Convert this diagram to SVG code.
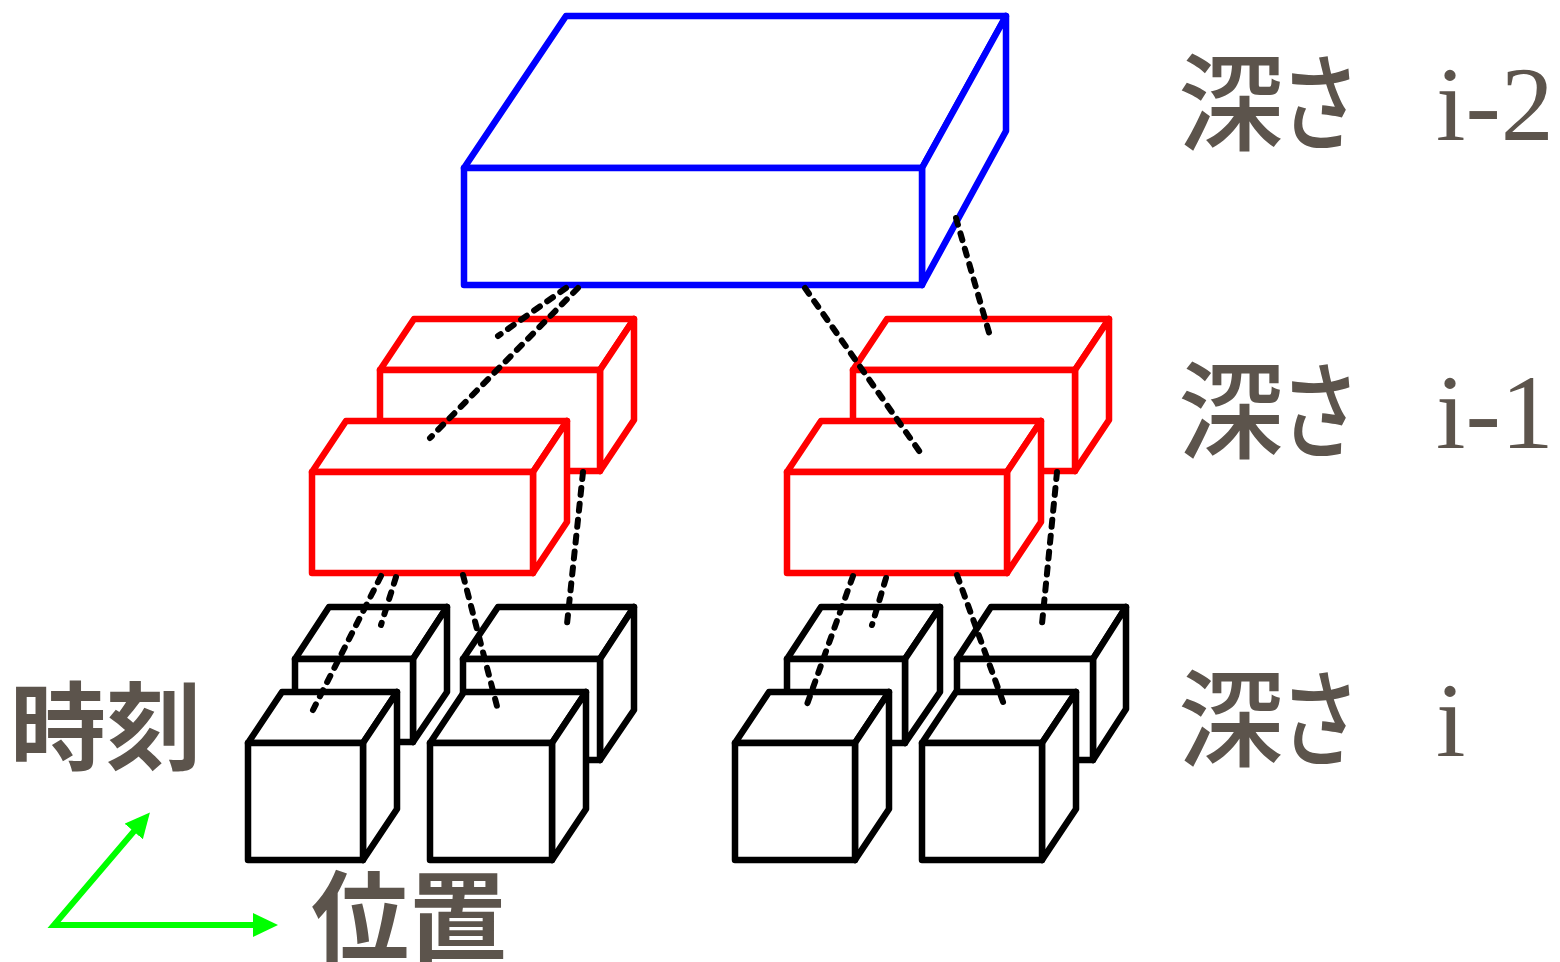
<svg xmlns="http://www.w3.org/2000/svg" width="1560" height="962" viewBox="0 0 1560 962">
<style>
.blue polygon{fill:#fff;stroke:#0000ff;stroke-width:6.5;stroke-linejoin:round}
.red polygon{fill:#fff;stroke:#ff0000;stroke-width:6.5;stroke-linejoin:round}
.blk polygon{fill:#fff;stroke:#000;stroke-width:6.5;stroke-linejoin:round}
#connectors line{stroke:#000;stroke-width:6;stroke-dasharray:7 9;stroke-linecap:round;fill:none}
.lbl{fill:#5c544c;font-family:"Noto Sans CJK JP","Noto Sans CJK SC",sans-serif}
.ser{font-family:"Liberation Serif","Times New Roman",serif;font-weight:normal}
</style>
<defs>
<marker id="ah" markerUnits="userSpaceOnUse" markerWidth="28" markerHeight="28" refX="2" refY="12" orient="auto-start-reverse">
<path d="M0,0 L25,12 L0,24 Z" fill="#00ff00"/>
</marker>
</defs>
<rect width="1560" height="962" fill="#fff"/>

<g id="box-depth-i-2" class="blue">
<polygon points="464,168 566,16 1006,16 922,168"/>
<polygon points="922,168 1006,16 1006,131 922,285"/>
<polygon points="464,168 922,168 922,285 464,285"/>
</g>

<g id="red-left-back" class="red">
<polygon points="380,370 414,319 634,319 600,370"/>
<polygon points="600,370 634,319 634,420 600,471"/>
<polygon points="380,370 600,370 600,471 380,471"/>
</g>
<g id="red-left-front" class="red">
<polygon points="312,472 346,421 567,421 533,472"/>
<polygon points="533,472 567,421 567,522 533,573"/>
<polygon points="312,472 533,472 533,573 312,573"/>
</g>
<g id="red-right-back" class="red">
<polygon points="853,370 887,319 1109,319 1075,370"/>
<polygon points="1075,370 1109,319 1109,420 1075,471"/>
<polygon points="853,370 1075,370 1075,471 853,471"/>
</g>
<g id="red-right-front" class="red">
<polygon points="787,472 821,421 1041,421 1007,472"/>
<polygon points="1007,472 1041,421 1041,522 1007,573"/>
<polygon points="787,472 1007,472 1007,573 787,573"/>
</g>

<g id="cube-1-back" class="blk">
<polygon points="295,659 329,607 447,607 413,659"/>
<polygon points="413,659 447,607 447,692 413,742"/>
<polygon points="295,659 413,659 413,742 295,742"/>
</g>
<g id="cube-2-back" class="blk">
<polygon points="463,659 498,607 634,607 600,659"/>
<polygon points="600,659 634,607 634,710 600,760"/>
<polygon points="463,659 600,659 600,760 463,760"/>
</g>
<g id="cube-1-front" class="blk">
<polygon points="248,743 282,692 397,692 363,743"/>
<polygon points="363,743 397,692 397,809 363,860"/>
<polygon points="248,743 363,743 363,860 248,860"/>
</g>
<g id="cube-2-front" class="blk">
<polygon points="430,743 464,692 586,692 552,743"/>
<polygon points="552,743 586,692 586,809 552,860"/>
<polygon points="430,743 552,743 552,860 430,860"/>
</g>
<g id="cube-3-back" class="blk">
<polygon points="787,659 821,607 940,607 905,659"/>
<polygon points="905,659 940,607 940,692 905,743"/>
<polygon points="787,659 905,659 905,743 787,743"/>
</g>
<g id="cube-4-back" class="blk">
<polygon points="957,659 991,607 1126,607 1093,659"/>
<polygon points="1093,659 1126,607 1126,709 1093,760"/>
<polygon points="957,659 1093,659 1093,760 957,760"/>
</g>
<g id="cube-3-front" class="blk">
<polygon points="735,743 769,692 889,692 855,743"/>
<polygon points="855,743 889,692 889,809 855,860"/>
<polygon points="735,743 855,743 855,860 735,860"/>
</g>
<g id="cube-4-front" class="blk">
<polygon points="922,743 956,692 1076,692 1042,743"/>
<polygon points="1042,743 1076,692 1076,809 1042,860"/>
<polygon points="922,743 1042,743 1042,860 922,860"/>
</g>

<g id="connectors">
<line x1="566" y1="288" x2="498" y2="336"/>
<line x1="578" y1="288" x2="430" y2="438"/>
<line x1="805" y1="288" x2="922" y2="455"/>
<line x1="956" y1="218" x2="990" y2="336"/>
<line x1="381" y1="576" x2="313" y2="710"/>
<line x1="396" y1="577" x2="381" y2="625"/>
<line x1="463" y1="575" x2="498" y2="710"/>
<line x1="583" y1="472" x2="567" y2="624"/>
<line x1="853" y1="576" x2="805" y2="710"/>
<line x1="886" y1="578" x2="872" y2="625"/>
<line x1="957" y1="575" x2="1006" y2="710"/>
<line x1="1057" y1="472" x2="1042" y2="624"/>
</g>

<g id="axes">
<path d="M135,830 L54,925 L255,925" fill="none" stroke="#00ff00" stroke-width="6" marker-start="url(#ah)" marker-end="url(#ah)"/>
</g>

<g id="labels">
<text class="lbl" x="10" y="762" font-size="96" font-weight="bold">時刻</text>
<text class="lbl" x="311" y="953" font-size="98" font-weight="bold">位置</text>
<text class="lbl" font-size="106" font-weight="500" y="142"><tspan x="1178">深</tspan><tspan x="1280" textLength="80" lengthAdjust="spacingAndGlyphs">さ</tspan><tspan class="ser" x="1436" y="140">i-2</tspan></text>
<text class="lbl" font-size="106" font-weight="500" y="450"><tspan x="1178">深</tspan><tspan x="1280" textLength="80" lengthAdjust="spacingAndGlyphs">さ</tspan><tspan class="ser" x="1436" y="448">i-1</tspan></text>
<text class="lbl" font-size="106" font-weight="500" y="758"><tspan x="1178">深</tspan><tspan x="1280" textLength="80" lengthAdjust="spacingAndGlyphs">さ</tspan><tspan class="ser" x="1436" y="756">i</tspan></text>
</g>
</svg>
